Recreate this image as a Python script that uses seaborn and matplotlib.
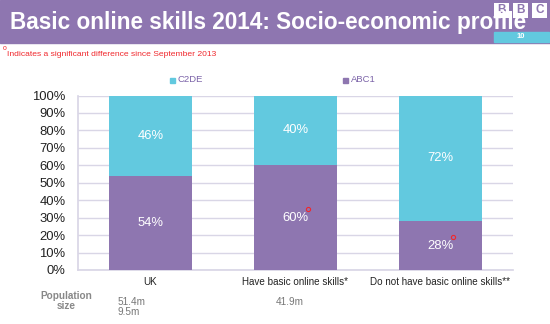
import matplotlib
matplotlib.use("Agg")
import matplotlib.pyplot as plt
import seaborn as sns
import pandas as pd
from matplotlib.patches import Rectangle

categories = ["UK", "Have basic online skills*", "Do not have basic online skills**"]
abc1 = [54, 60, 28]
c2de = [46, 40, 72]
significant = [False, True, True]
pop_sizes = ["51.4m\n9.5m", "41.9m", ""]
yticks = list(range(0, 101, 10))

# label x offsets (positions, not data)
pop_offsets = [-0.23, -0.135, 0]

PURPLE = "#8E76B0"
CYAN = "#62C9DF"
RED = "#F0282D"

sns.set_theme(style="white")
plt.rcParams["font.family"] = ["Liberation Sans", "DejaVu Sans"]

df = pd.DataFrame({"cat": categories, "ABC1": abc1, "C2DE": c2de})
df["total"] = df["ABC1"] + df["C2DE"]

fig = plt.figure(figsize=(5.5, 3.24), dpi=100)
W, H = 550, 324

def fx(px):
    return px / W

def fy(py):
    return 1 - py / H

# Title band
fig.patches.append(Rectangle((0, fy(43)), 1, 43 / H, transform=fig.transFigure,
                             color=PURPLE, zorder=0))
fig.patches.append(Rectangle((fx(494), fy(42)), fx(55), 10 / H, transform=fig.transFigure,
                             color=CYAN, zorder=1))
fig.text(fx(521), fy(37), "10", color="white", fontsize=5.5, fontweight="bold",
         ha="center", va="center")
# BBC blocks
for i, letter in enumerate(["B", "B", "C"]):
    x0 = 494 + i * 19
    fig.patches.append(Rectangle((fx(x0), fy(18)), fx(15), 15 / H, transform=fig.transFigure,
                                 facecolor="white", edgecolor="none", zorder=1))
    fig.text(fx(x0 + 7.5), fy(10), letter, color=PURPLE, fontsize=8.5, fontweight="bold",
             ha="center", va="center", zorder=2)
fig.text(fx(10), fy(23), "Basic online skills 2014: Socio-economic profile", color="white",
         fontsize=16.3, fontweight="bold", ha="left", va="center", zorder=3)

# Subtitle note
fig.text(fx(3), fy(49), "o", color=RED, fontsize=5, ha="left", va="center")
fig.text(fx(7), fy(54), "Indicates a significant difference since September 2013", color=RED,
         fontsize=6.1, ha="left", va="center")

ax = fig.add_axes([fx(78), 54 / H, fx(435), 174.5 / H])
sns.barplot(data=df, x="cat", y="total", color=CYAN, width=0.57, ax=ax,
            saturation=1, linewidth=0, zorder=3)
sns.barplot(data=df, x="cat", y="ABC1", color=PURPLE, width=0.57, ax=ax,
            saturation=1, linewidth=0, zorder=3)

ax.set_xlim(-0.5, 2.5)
ax.set_ylim(0, 100)
ax.set_yticks(yticks)
ax.set_yticklabels([f"{t}%" for t in yticks], fontsize=9.4, color="#222222")
ax.yaxis.grid(True, color="#D9D6E6", linewidth=1, zorder=0)
ax.set_axisbelow(True)
ax.set_xlabel("")
ax.set_ylabel("")
ax.set_xticks([-0.5, 0.5, 1.5, 2.5])
ax.set_xticklabels([])
ax.tick_params(axis="x", length=3, color="#D9D6E6", width=1)
ax.tick_params(axis="y", length=0, pad=9)
for s in ["top", "right"]:
    ax.spines[s].set_visible(False)
ax.spines["left"].set_color("#D9D6E6")
ax.spines["bottom"].set_color("#D9D6E6")

for i, cat in enumerate(categories):
    ax.text(i, abc1[i] / 2, f"{abc1[i]}%", color="white", fontsize=9.4, ha="center", va="center", zorder=5)
    ax.text(i, abc1[i] + c2de[i] / 2, f"{c2de[i]}%", color="white", fontsize=9.4, ha="center", va="center", zorder=5)
    if significant[i]:
        ax.plot(i + 0.085, abc1[i] / 2 + 5, marker="o", ms=3, mfc="none", mec=RED, mew=0.8, zorder=6)
    ax.text(i, -7, cat, color="#222222", fontsize=7.1, ha="center", va="center")
    if pop_sizes[i]:
        ax.text(i + pop_offsets[i], -15.5, pop_sizes[i], color="#777777", fontsize=7.2, ha="left", va="top",
                linespacing=1.05)

# Population size label
fig.text(fx(66), fy(301), "Population\nsize", color="#888888", fontsize=7.2, fontweight="bold",
         ha="center", va="center", linespacing=1.1)

# Legend
for x0, lab, col in [(173, "C2DE", CYAN), (346, "ABC1", PURPLE)]:
    fig.patches.append(Rectangle((fx(x0 - 3), fy(82.5)), fx(5), 5 / H, transform=fig.transFigure,
                                 color=col))
    fig.text(fx(x0 + 5), fy(80), lab, color="#7B63A8", fontsize=6.8, ha="left", va="center")

fig.savefig("out.png", dpi=100)
